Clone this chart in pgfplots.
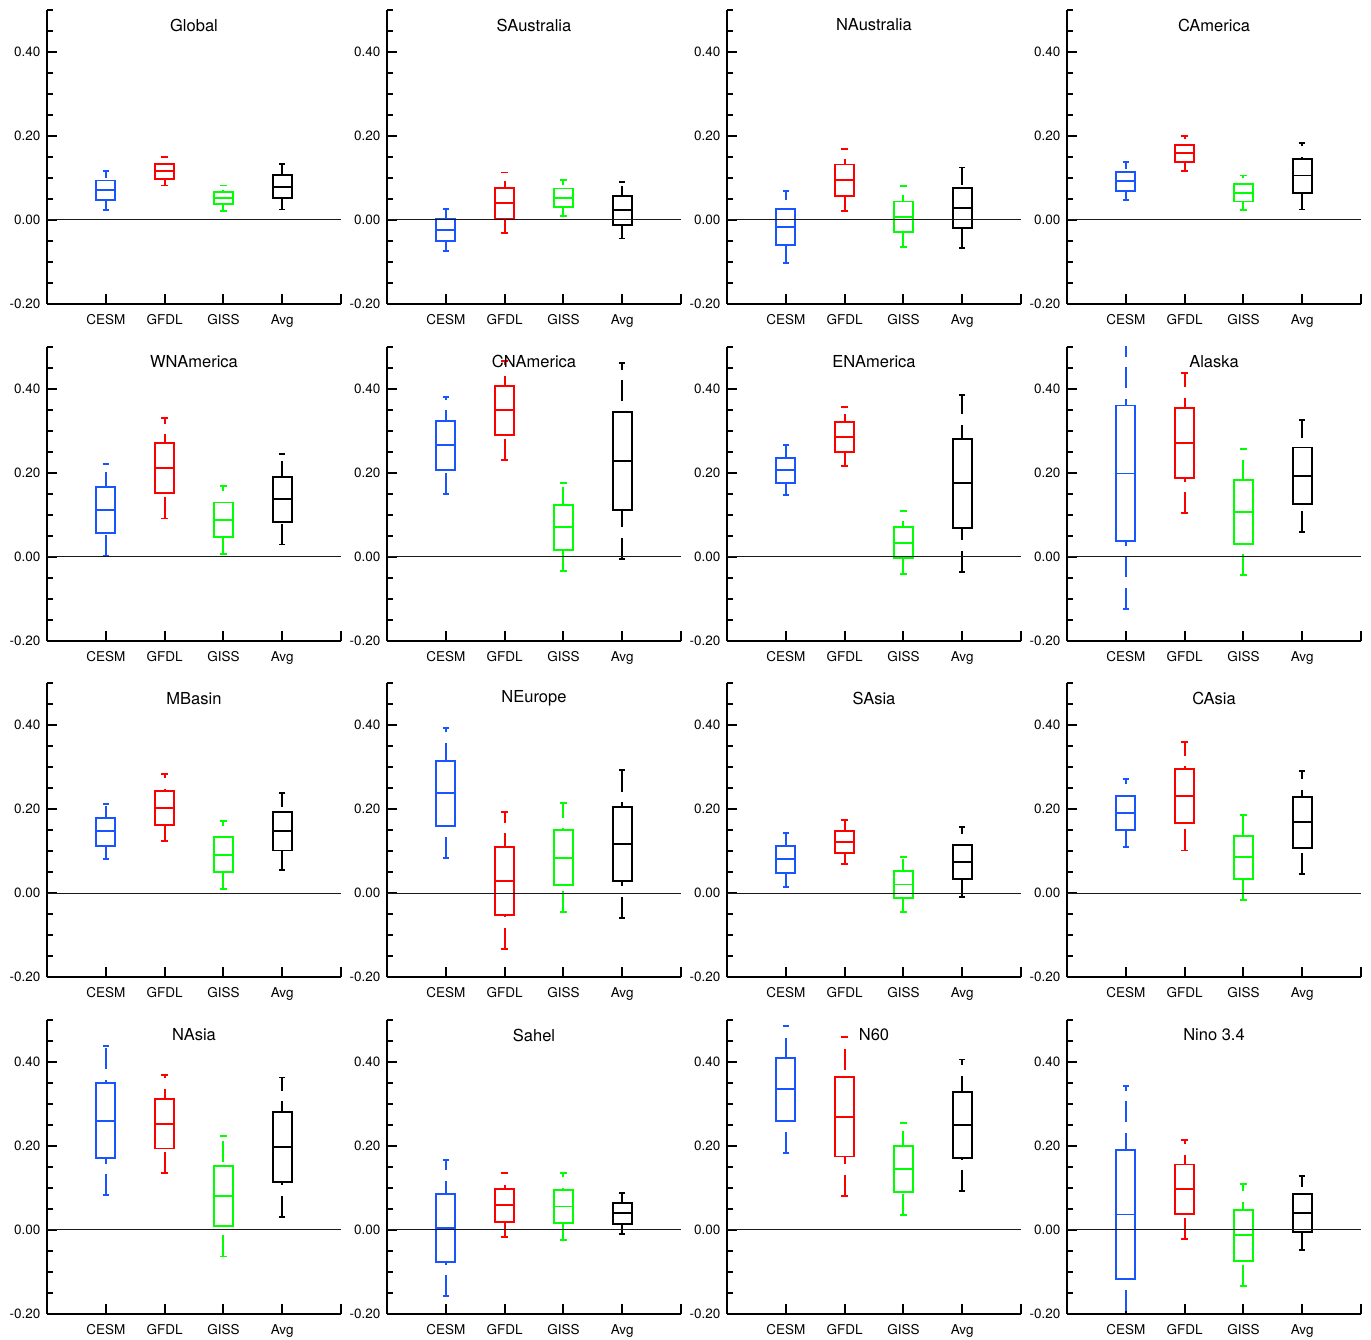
\documentclass[border=0pt]{standalone}
\usepackage{fontspec}
\setmainfont{TeX Gyre Heros}
\usepackage{pgfplots}
\pgfplotsset{compat=1.18}
\definecolor{cesm}{RGB}{25,85,255}
\definecolor{gfdl}{RGB}{255,0,0}
\definecolor{giss}{RGB}{0,255,0}
\definecolor{avg}{RGB}{0,0,0}
\pgfplotsset{
  panel/.style={
    anchor=south west, scale only axis, width=294pt, height=294pt,
    xmin=0, xmax=5, ymin=-0.2, ymax=0.5,
    axis lines=left, axis line style={-, line width=2pt, black},
    xtick={1,2,3,4,5}, xticklabels={CESM,GFDL,GISS,Avg,{}},
    ytick={-0.2,0,0.2,0.4}, yticklabels={-0.20,0.00,0.20,0.40},
    minor ytick={-0.15,-0.1,-0.05,0.05,0.1,0.15,0.25,0.3,0.35,0.45,0.5},
    tick align=inside, major tick length=10pt, minor tick length=6pt,
    every tick/.style={black, line width=2pt},
    ticklabel style={font=\fontsize{13.5}{15}\selectfont},
    yticklabel style={xshift=-3pt},
    xticklabel style={yshift=-7pt},
    title style={at={(0.5,1)}, anchor=center, yshift=-21pt, font=\fontsize{16.5}{18}\selectfont},
    clip=true,
    every axis plot/.append style={line width=1.9pt},
  },
  wh/.style={dash pattern=on 21pt off 10.5pt},
}
\newcommand{\bx}[7]{%
 \pgfmathsetmacro\boxl{#1-0.16}\pgfmathsetmacro\boxr{#1+0.16}%
 \pgfmathsetmacro\capl{#1-0.055}\pgfmathsetmacro\capr{#1+0.055}%
 \addplot[#2, wh] coordinates {(#1,#3) (#1,#7)};
 \addplot[#2] coordinates {(\capl,#3) (\capr,#3)};
 \addplot[#2] coordinates {(\capl,#7) (\capr,#7)};
 \addplot[#2, fill=white] coordinates {(\boxl,#4) (\boxr,#4) (\boxr,#6) (\boxl,#6)} -- cycle;
 \addplot[#2] coordinates {(\boxl,#5) (\boxr,#5)};
}
\newcommand{\panel}[4]{%
\begin{axis}[panel, at={(#1pt,#2pt)}, title={#3}]
#4
\addplot[black!90, line width=1pt] coordinates {(0,0) (5,0)};
\end{axis}}
\begin{document}
\begin{tikzpicture}
\useasboundingbox (0,0) rectangle (1371pt,1339pt);
% Row 1
\panel{47}{1035}{Global}{
\bx{1}{cesm}{0.024}{0.048}{0.071}{0.094}{0.117}
\bx{2}{gfdl}{0.082}{0.098}{0.116}{0.134}{0.151}
\bx{3}{giss}{0.021}{0.037}{0.052}{0.067}{0.082}
\bx{4}{avg}{0.025}{0.052}{0.079}{0.107}{0.134}}
\panel{387}{1035}{SAustralia}{
\bx{1}{cesm}{-0.073}{-0.049}{-0.023}{0.002}{0.026}
\bx{2}{gfdl}{-0.032}{0.002}{0.041}{0.076}{0.113}
\bx{3}{giss}{0.009}{0.031}{0.053}{0.075}{0.096}
\bx{4}{avg}{-0.044}{-0.011}{0.024}{0.057}{0.090}}
\panel{727}{1035}{NAustralia}{
\bx{1}{cesm}{-0.102}{-0.060}{-0.016}{0.026}{0.068}
\bx{2}{gfdl}{0.021}{0.057}{0.095}{0.132}{0.168}
\bx{3}{giss}{-0.065}{-0.029}{0.007}{0.044}{0.080}
\bx{4}{avg}{-0.067}{-0.020}{0.029}{0.076}{0.125}}
\panel{1067}{1035}{CAmerica}{
\bx{1}{cesm}{0.047}{0.069}{0.092}{0.115}{0.138}
\bx{2}{gfdl}{0.117}{0.138}{0.159}{0.179}{0.200}
\bx{3}{giss}{0.024}{0.044}{0.065}{0.086}{0.106}
\bx{4}{avg}{0.025}{0.065}{0.106}{0.145}{0.184}}
% Row 2
\panel{47}{698.3}{WNAmerica}{
\bx{1}{cesm}{0.002}{0.057}{0.112}{0.167}{0.221}
\bx{2}{gfdl}{0.091}{0.152}{0.212}{0.271}{0.331}
\bx{3}{giss}{0.006}{0.047}{0.087}{0.129}{0.168}
\bx{4}{avg}{0.029}{0.083}{0.137}{0.190}{0.244}}
\panel{387}{698.3}{CNAmerica}{
\bx{1}{cesm}{0.149}{0.206}{0.265}{0.323}{0.380}
\bx{2}{gfdl}{0.231}{0.289}{0.349}{0.406}{0.465}
\bx{3}{giss}{-0.035}{0.017}{0.071}{0.124}{0.175}
\bx{4}{avg}{-0.005}{0.111}{0.228}{0.344}{0.461}}
\panel{727}{698.3}{ENAmerica}{
\bx{1}{cesm}{0.146}{0.175}{0.206}{0.236}{0.265}
\bx{2}{gfdl}{0.215}{0.250}{0.286}{0.321}{0.356}
\bx{3}{giss}{-0.041}{-0.004}{0.033}{0.071}{0.108}
\bx{4}{avg}{-0.036}{0.069}{0.175}{0.281}{0.386}}
\panel{1067}{698.3}{Alaska}{
\bx{1}{cesm}{-0.124}{0.038}{0.198}{0.360}{0.522}
\bx{2}{gfdl}{0.103}{0.187}{0.270}{0.353}{0.438}
\bx{3}{giss}{-0.044}{0.031}{0.107}{0.182}{0.257}
\bx{4}{avg}{0.058}{0.125}{0.192}{0.260}{0.326}}
% Row 3
\panel{47}{361.7}{MBasin}{
\bx{1}{cesm}{0.082}{0.113}{0.148}{0.180}{0.213}
\bx{2}{gfdl}{0.124}{0.163}{0.204}{0.244}{0.284}
\bx{3}{giss}{0.010}{0.051}{0.092}{0.133}{0.173}
\bx{4}{avg}{0.056}{0.102}{0.148}{0.194}{0.239}}
\panel{387}{361.7}{NEurope}{
\bx{1}{cesm}{0.083}{0.160}{0.239}{0.316}{0.394}
\bx{2}{gfdl}{-0.132}{-0.051}{0.030}{0.111}{0.194}
\bx{3}{giss}{-0.045}{0.020}{0.085}{0.150}{0.216}
\bx{4}{avg}{-0.058}{0.029}{0.117}{0.206}{0.294}}
\panel{727}{361.7}{SAsia}{
\bx{1}{cesm}{0.016}{0.048}{0.081}{0.113}{0.144}
\bx{2}{gfdl}{0.070}{0.095}{0.122}{0.149}{0.175}
\bx{3}{giss}{-0.044}{-0.011}{0.021}{0.054}{0.087}
\bx{4}{avg}{-0.008}{0.033}{0.075}{0.115}{0.157}}
\panel{1067}{361.7}{CAsia}{
\bx{1}{cesm}{0.110}{0.151}{0.192}{0.232}{0.272}
\bx{2}{gfdl}{0.102}{0.167}{0.232}{0.296}{0.361}
\bx{3}{giss}{-0.016}{0.035}{0.086}{0.137}{0.187}
\bx{4}{avg}{0.046}{0.107}{0.170}{0.230}{0.292}}
% Row 4
\panel{47}{25}{NAsia}{
\bx{1}{cesm}{0.083}{0.171}{0.260}{0.349}{0.438}
\bx{2}{gfdl}{0.136}{0.194}{0.252}{0.311}{0.370}
\bx{3}{giss}{-0.063}{0.009}{0.081}{0.152}{0.223}
\bx{4}{avg}{0.032}{0.114}{0.198}{0.282}{0.363}}
\panel{387}{25}{Sahel}{
\bx{1}{cesm}{-0.158}{-0.076}{0.005}{0.086}{0.167}
\bx{2}{gfdl}{-0.017}{0.020}{0.060}{0.098}{0.135}
\bx{3}{giss}{-0.024}{0.016}{0.056}{0.095}{0.135}
\bx{4}{avg}{-0.010}{0.014}{0.040}{0.064}{0.089}}
\panel{727}{25}{N60}{
\bx{1}{cesm}{0.183}{0.260}{0.335}{0.410}{0.486}
\bx{2}{gfdl}{0.081}{0.175}{0.270}{0.364}{0.460}
\bx{3}{giss}{0.036}{0.090}{0.145}{0.199}{0.254}
\bx{4}{avg}{0.092}{0.171}{0.249}{0.329}{0.406}}
\panel{1067}{25}{Nino 3.4}{
\bx{1}{cesm}{-0.269}{-0.116}{0.037}{0.190}{0.343}
\bx{2}{gfdl}{-0.021}{0.038}{0.097}{0.156}{0.215}
\bx{3}{giss}{-0.133}{-0.073}{-0.011}{0.048}{0.110}
\bx{4}{avg}{-0.048}{-0.005}{0.040}{0.086}{0.129}}
\end{tikzpicture}
\end{document}
